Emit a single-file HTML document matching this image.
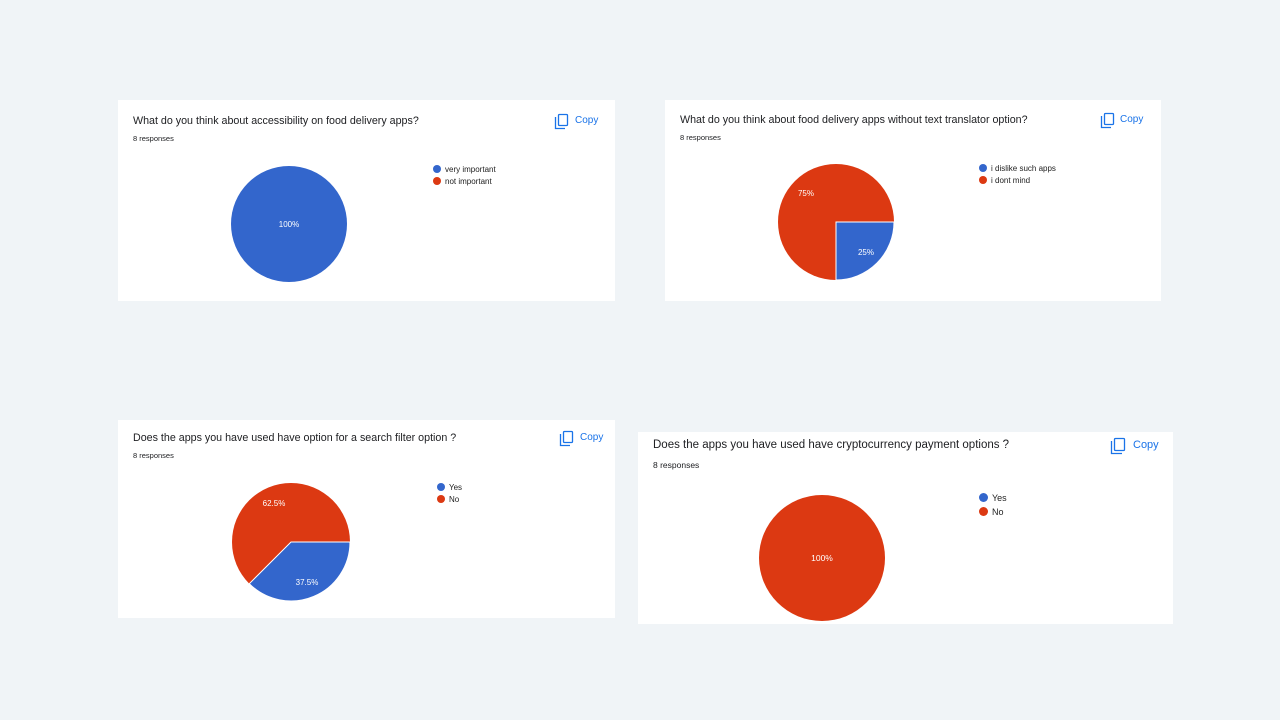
<!DOCTYPE html>
<html><head><meta charset="utf-8"><style>
html,body{margin:0;padding:0;}
body{width:1280px;height:720px;background:#f0f4f7;position:relative;overflow:hidden;font-family:"Liberation Sans",Arial,sans-serif;}
.card{position:absolute;background:#fff;}
.t{position:absolute;color:#202124;white-space:nowrap;}
.r{position:absolute;color:#202124;white-space:nowrap;}
.copy{position:absolute;color:#1a73e8;white-space:nowrap;}
.leg{position:absolute;font-size:8px;color:#222;white-space:nowrap;}
.dot{display:inline-block;width:8px;height:8px;border-radius:50%;vertical-align:-1px;margin-right:4px;}
svg{position:absolute;left:0;top:0;}
</style></head><body>
<div class="card" style="left:118px;top:100px;width:497px;height:201px"></div>
<div class="card" style="left:665px;top:100px;width:496px;height:201px"></div>
<div class="card" style="left:118px;top:420px;width:497px;height:198px"></div>
<div class="card" style="left:638px;top:432px;width:535px;height:192px"></div>

<div class="t" style="left:133px;top:115px;font-size:10.7px">What do you think about accessibility on food delivery apps?</div>
<div class="r" style="left:133px;top:134px;font-size:7.5px">8 responses</div>
<div class="copy" style="left:575px;top:115px;font-size:10px">Copy</div>
<div class="leg" style="left:433px;top:165px"><span class="dot" style="background:#3366cc"></span>very important</div>
<div class="leg" style="left:433px;top:177px"><span class="dot" style="background:#dc3912"></span>not important</div>

<div class="t" style="left:680px;top:114px;font-size:10.7px">What do you think about food delivery apps without text translator option?</div>
<div class="r" style="left:680px;top:133px;font-size:7.5px">8 responses</div>
<div class="copy" style="left:1120px;top:114px;font-size:10px">Copy</div>
<div class="leg" style="left:979px;top:164px"><span class="dot" style="background:#3366cc"></span>i dislike such apps</div>
<div class="leg" style="left:979px;top:176px"><span class="dot" style="background:#dc3912"></span>i dont mind</div>

<div class="t" style="left:133px;top:432px;font-size:10.7px">Does the apps you have used have option for a search filter option ?</div>
<div class="r" style="left:133px;top:451px;font-size:7.5px">8 responses</div>
<div class="copy" style="left:580px;top:432px;font-size:10px">Copy</div>
<div class="leg" style="left:437px;top:483px"><span class="dot" style="background:#3366cc"></span>Yes</div>
<div class="leg" style="left:437px;top:495px"><span class="dot" style="background:#dc3912"></span>No</div>

<div class="t" style="left:653px;top:439px;font-size:11.5px">Does the apps you have used have cryptocurrency payment options ?</div>
<div class="r" style="left:653px;top:460px;font-size:8.5px">8 responses</div>
<div class="copy" style="left:1133px;top:439px;font-size:11px">Copy</div>
<div class="leg" style="left:979px;top:493px;font-size:9px"><span class="dot" style="background:#3366cc;width:9px;height:9px"></span>Yes</div>
<div class="leg" style="left:979px;top:507px;font-size:9px"><span class="dot" style="background:#dc3912;width:9px;height:9px"></span>No</div>

<svg width="1280" height="720" font-family="Liberation Sans, Arial, sans-serif">
<g fill="none" stroke="#1a73e8" stroke-width="1.3">
<rect x="558.5" y="114.5" width="9" height="11" rx="1"/><path d="M555.5 117 V128.5 H565"/>
<rect x="1104.5" y="113.5" width="9" height="11" rx="1"/><path d="M1101.5 116 V127.5 H1111"/>
<rect x="563.5" y="431.5" width="9" height="11" rx="1"/><path d="M560.5 434 V445.5 H570"/>
<rect x="1114.5" y="438.5" width="10" height="12" rx="1"/><path d="M1111.5 441 V453.5 H1122"/>
</g>
<circle cx="289" cy="224" r="58" fill="#3366cc"/>
<text x="289" y="227" font-size="8" fill="#fff" text-anchor="middle">100%</text>

<circle cx="836" cy="222" r="58" fill="#dc3912"/>
<path d="M836 222 L894 222 A58 58 0 0 1 836 280 Z" fill="#3366cc" stroke="#fff" stroke-width="1"/>
<text x="806" y="196" font-size="8" fill="#fff" text-anchor="middle">75%</text>
<text x="866" y="255" font-size="8" fill="#fff" text-anchor="middle">25%</text>

<circle cx="291" cy="542" r="59" fill="#dc3912"/>
<path d="M291 542 L350 542 A59 59 0 0 1 249.3 583.7 Z" fill="#3366cc" stroke="#fff" stroke-width="1"/>
<text x="274" y="506" font-size="8" fill="#fff" text-anchor="middle">62.5%</text>
<text x="307" y="585" font-size="8" fill="#fff" text-anchor="middle">37.5%</text>

<circle cx="822" cy="558" r="63" fill="#dc3912"/>
<text x="822" y="561" font-size="8.5" fill="#fff" text-anchor="middle">100%</text>
</svg>
</body></html>
